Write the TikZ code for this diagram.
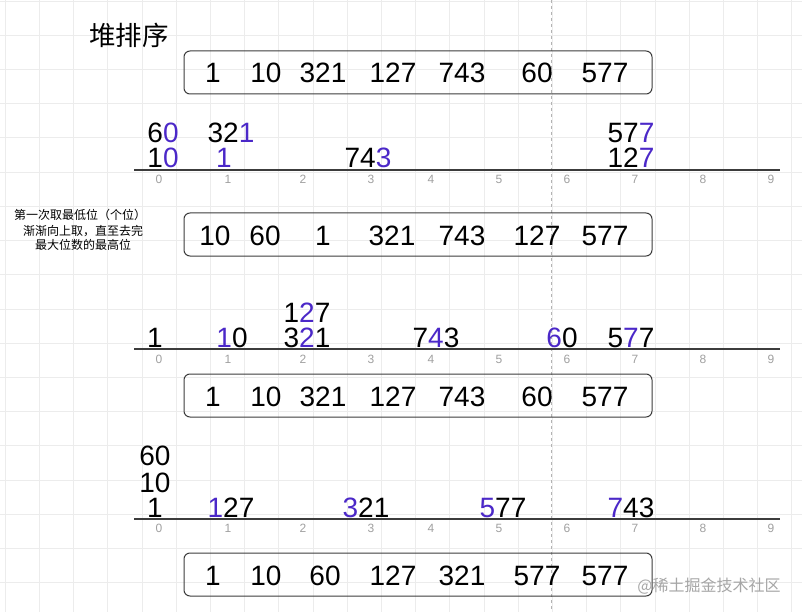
\documentclass[tikz,border=0pt]{standalone}
\usepackage{fontspec}
\setmainfont{Liberation Sans}
\newfontfamily\cjk{Noto Sans CJK SC}
\definecolor{blu}{RGB}{75,40,200}
\definecolor{gridc}{RGB}{236,236,236}
\definecolor{tickc}{RGB}{160,160,160}
\definecolor{linec}{RGB}{60,60,60}
\begin{document}
\begin{tikzpicture}[x=1pt,y=-1pt,
  num/.style={anchor=base,inner sep=0pt,text height=20pt,text depth=0pt,font=\fontsize{28}{28}\selectfont},
  tick/.style={anchor=base,inner sep=0pt,font=\fontsize{12}{12}\selectfont,text=tickc},
  arr/.style={draw=linec,rounded corners=6pt,line width=1pt,minimum width=468pt,minimum height=43pt,inner sep=0pt},
  axis/.style={draw=linec,line width=1.2pt},
  note/.style={anchor=base,inner sep=0pt,font=\cjk\fontsize{12}{12}\selectfont}]
\useasboundingbox (0,0) rectangle (802,612);
\fill[white] (0,0) rectangle (802,612);
% grid
\foreach \i in {0,...,23} {\draw[gridc,line width=0.6pt] ({5+34.2*\i},0) -- ({5+34.2*\i},612);}
\foreach \j in {0,...,18} {\draw[gridc,line width=0.6pt] (0,{1+34.2*\j}) -- (802,{1+34.2*\j});}
% dashed guide
\coordinate (dtop) at (551,0);
\coordinate (dbot) at (551,612);
\draw[tickc!80,line width=0.7pt,dash pattern=on 3pt off 3pt] (dtop) -- (dbot);
% title
\node[anchor=base,inner sep=0pt,font=\cjk\fontsize{26.5}{26.5}\selectfont] (title) at (129,46) {堆排序};
% ---- box 1
\node[arr] (b1) at (418,72.5) {};
\foreach \t/\x [count=\k] in {1/213,10/266,321/323,127/393,743/462,60/537,577/605}
  \node[num] (b1n\k) at (\x,83) {\t};
% ---- axis 1
\coordinate (a1s) at (134,170);
\coordinate (a1e) at (780,170);
\draw[axis] (a1s) -- (a1e);
\foreach \n/\x in {0/159,1/228,2/303,3/371,4/431,5/499,6/567,7/635,8/703,9/771}
  \node[tick] (t1\n) at (\x,184) {\n};
\node[num] (s1a) at (163,143) {6\textcolor{blu}{0}};
\node[num] (s1b) at (163,168) {1\textcolor{blu}{0}};
\node[num] (s1c) at (231,143) {32\textcolor{blu}{1}};
\node[num] (s1d) at (224,168) {\textcolor{blu}{1}};
\node[num] (s1e) at (368,168) {74\textcolor{blu}{3}};
\node[num] (s1f) at (631,143) {57\textcolor{blu}{7}};
\node[num] (s1g) at (631,168) {12\textcolor{blu}{7}};
% note
\node[note] (n1) at (80,220) {第一次取最低位（个位）};
\node[note] (n2) at (83,235) {渐渐向上取，直至去完};
\node[note] (n3) at (83,249) {最大位数的最高位};
% ---- box 2
\node[arr] (b2) at (418,234.5) {};
\foreach \t/\x [count=\k] in {10/215,60/265,1/323,321/392,743/462,127/537,577/605}
  \node[num] (b2n\k) at (\x,245) {\t};
% ---- axis 2
\coordinate (a2s) at (134,349);
\coordinate (a2e) at (780,349);
\draw[axis] (a2s) -- (a2e);
\foreach \n/\x in {0/159,1/228,2/303,3/371,4/431,5/499,6/567,7/635,8/703,9/771}
  \node[tick] (t2\n) at (\x,363) {\n};
\node[num] (s2a) at (307,322) {1\textcolor{blu}{2}7};
\node[num] (s2b) at (155,347) {1};
\node[num] (s2c) at (232,347) {\textcolor{blu}{1}0};
\node[num] (s2d) at (307,347) {3\textcolor{blu}{2}1};
\node[num] (s2e) at (436,347) {7\textcolor{blu}{4}3};
\node[num] (s2f) at (562,347) {\textcolor{blu}{6}0};
\node[num] (s2g) at (631,347) {5\textcolor{blu}{7}7};
% ---- box 3
\node[arr] (b3) at (418,395.5) {};
\foreach \t/\x [count=\k] in {1/213,10/266,321/323,127/393,743/462,60/537,577/605}
  \node[num] (b3n\k) at (\x,406) {\t};
% ---- axis 3
\coordinate (a3s) at (134,519);
\coordinate (a3e) at (780,519);
\draw[axis] (a3s) -- (a3e);
\foreach \n/\x in {0/159,1/228,2/303,3/371,4/431,5/499,6/567,7/635,8/703,9/771}
  \node[tick] (t3\n) at (\x,532) {\n};
\node[num] (s3a) at (155,465) {60};
\node[num] (s3b) at (155,492) {10};
\node[num] (s3c) at (155,517) {1};
\node[num] (s3d) at (231,517) {\textcolor{blu}{1}27};
\node[num] (s3e) at (366,517) {\textcolor{blu}{3}21};
\node[num] (s3f) at (503,517) {\textcolor{blu}{5}77};
\node[num] (s3g) at (631,517) {\textcolor{blu}{7}43};
% ---- box 4
\node[arr] (b4) at (418,574.5) {};
\foreach \t/\x [count=\k] in {1/213,10/266,60/325,127/393,321/462,577/537,577/605}
  \node[num] (b4n\k) at (\x,585) {\t};
% watermark
\node[anchor=base,inner sep=0pt,font=\cjk\fontsize{16}{16}\selectfont,text=black!35] (wm) at (709,591) {@稀土掘金技术社区};
\end{tikzpicture}
\end{document}
